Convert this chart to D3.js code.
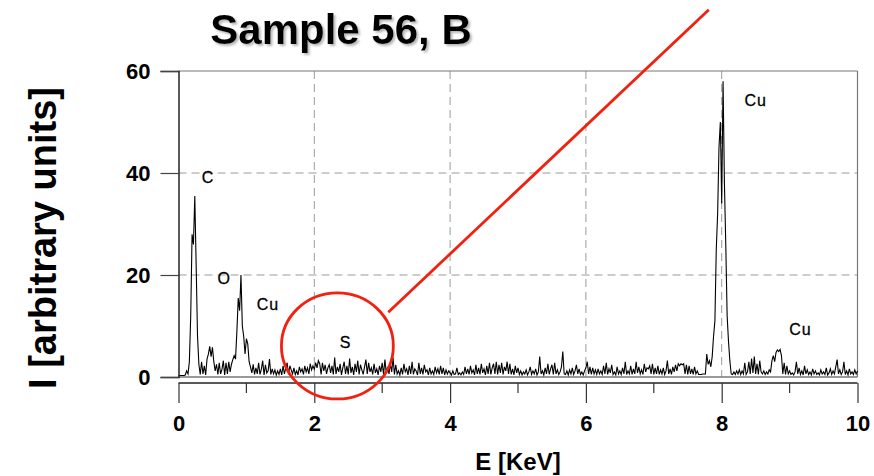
<!DOCTYPE html>
<html>
<head>
<meta charset="utf-8">
<script src="https://cdn.jsdelivr.net/npm/d3@7"></script>
<style>
  html, body { margin: 0; padding: 0; background: #fff; }
  svg { display: block; font-family: "Liberation Sans", Arial, sans-serif; }
</style>
</head>
<body>
<svg id="chart" width="874" height="476"></svg>
<script>
// ---------------- DATA ----------------
const title = "Sample 56, B";
const xTitle = "E [KeV]";
const yTitle = "I [arbitrary units]";
const energyStep = 0.02; // keV between successive counts (0 .. 10 keV)
const xTicks = [0, 2, 4, 6, 8, 10];
const xMinorTicks = [1, 3, 5, 7, 9];
const yTicks = [0, 20, 40, 60];

// intensity, one value per 0.02 keV
const intensity = [
  // 0.00 - 0.98
  0.3,0.3,0.3,0.3,0.3,0.4,1.2,0.6,3,12, 28,26,35.5,22,8,2.5,0.5,3,0.6,2.2,
  0.4,3.5,4.5,6,4,5.8,3,1.2,2.5,0.5, 2.8,0.6,1.5,3.2,0.4,2.8,0.6,3,1,2.5,
  3.4,4.2,3.5,9,15.5,13,20,10,8,4.5,
  // 1.00 - 1.98
  7.5,6.5,3,2,0.8,2.5,0.5,1.8,0.6,2.8, 0.5,1.5,3.2,0.4,2.4,0.8,1.2,3.5,0.5,1.6,
  0.6,1.4,0.4,1.2,0.5,1.6,0.4,2.2,0.6,1.8, 2.8,0.5,2.2,1.4,0.6,1.8,0.5,1.2,0.4,2.0,
  1.0,1.6,0.5,2.2,1.0,1.8,0.6,2.6,1.4,2.2,
  // 2.00 - 2.98
  1.5,2.8,1.8,3.2,2.6,0.5,2.8,1.2,2.4,0.6, 1.8,2.4,0.8,2.2,0.5,3.8,0.6,2.0,1.0,2.6,
  0.4,1.8,3.0,0.6,2.2,0.5,3.6,0.8,2.0,0.4, 2.6,1.0,3.2,0.5,2.4,1.4,0.5,2.0,3.4,0.6,
  2.8,1.0,1.8,0.5,2.6,0.8,1.6,0.4,2.2,1.0,
  // 3.00 - 3.98
  2.8,0.5,3.4,0.8,2.0,0.6,2.6,1.0,3.8,0.5, 2.4,0.6,1.2,0.4,1.8,0.5,2.6,1.0,1.6,0.4,
  2.2,0.6,3.0,0.5,1.6,1.2,0.4,2.8,0.6,1.8, 0.5,2.4,1.0,1.4,0.4,1.8,0.6,1.2,0.5,2.0,
  0.8,1.6,0.5,2.2,0.6,1.8,0.4,1.4,0.6,1.2,
  // 4.00 - 4.98
  0.8,0.4,1.2,0.5,0.6,1.8,0.5,0.8,0.4,1.0, 0.5,2.0,0.6,1.6,0.5,2.2,0.8,1.4,0.4,2.4,
  0.6,1.8,0.5,2.6,0.8,1.6,0.4,2.2,0.6,2.8, 0.5,1.8,2.6,0.6,3.0,0.5,2.4,0.8,2.8,0.5,
  2.0,1.2,3.0,0.6,2.6,0.5,1.6,0.4,2.2,0.8,
  // 5.00 - 5.98
  1.8,0.5,1.2,0.4,1.0,0.6,1.4,0.4,1.0,2.0, 0.5,1.2,0.6,1.6,0.4,1.0,4.0,0.6,1.2,0.4,
  1.8,0.6,2.6,0.5,1.6,2.4,0.5,2.8,0.6,1.4, 0.5,1.0,2.0,5.0,0.6,0.5,1.2,0.4,1.4,0.6,
  1.8,0.5,1.2,2.4,0.6,1.6,0.5,1.0,0.4,1.2,
  // 6.00 - 6.98
  1.8,3.0,0.6,2.0,0.5,1.8,0.6,1.4,0.5,1.6, 0.6,1.2,0.5,2.2,0.6,2.8,0.5,1.6,0.8,2.4,
  0.5,1.0,0.4,2.0,0.6,1.2,0.5,1.8,0.6,3.0, 0.5,1.2,0.6,2.2,0.5,1.6,0.6,3.0,0.8,2.0,
  0.6,1.4,0.5,2.6,1.0,1.8,1.6,2.2,0.6,2.6,
  // 7.00 - 7.98
  0.5,1.8,0.6,2.2,0.5,1.4,0.6,1.8,0.5,1.2, 3.2,0.6,1.6,0.5,2.0,1.0,2.4,1.2,2.6,2.2,
  2.6,2.4,2.6,0.6,2.4,0.5,2.2,0.6,1.6,0.5, 2.0,0.6,1.2,0.5,0.5,0.5,0.6,0.6,0.6,4.5,
  2.5,3.2,2.0,4.0,8.0,11,25,32,45,50,
  // 8.00 - 8.98
  34,58,38,26,12,7,3.2,0.6,0.5,1.0, 0.5,1.2,0.6,1.4,0.5,1.2,0.6,2.8,0.5,1.0,
  3.0,0.6,3.6,0.8,4.0,0.6,2.6,0.5,3.2,1.0, 0.6,1.2,0.5,1.0,0.6,1.4,1.0,3.2,4.2,3.0,
  4.8,5.3,5.0,5.4,4.2,0.6,2.8,0.5,2.2,0.6,
  // 9.00 - 10.00
  1.2,0.5,0.8,0.4,1.0,3.0,0.6,1.8,0.5,1.2, 0.4,2.2,0.6,1.4,0.5,1.0,0.4,1.6,0.6,1.2,
  0.5,0.8,0.4,1.4,0.6,1.0,0.5,1.8,0.4,0.8, 1.6,0.5,1.2,0.6,2.0,3.4,0.6,1.4,0.5,1.0,
  3.0,0.5,1.2,0.4,1.6,0.6,1.0,0.5,1.4,0.6,
  1.2
];

// peak labels (placed in data coordinates)
const peakLabels = ["C", "O", "Cu", "S", "Cu", "Cu"];
const peakLabelE = [0.434, 0.672, 1.317, 2.46, 8.50, 9.16];
const peakLabelI = [39.2, 19.4, 14.3, 6.7, 54.3, 9.4];

// red highlight around the S region (data coordinates)
const circleCenter = [2.34, 6.1];
const circleRadius = [0.824, 10.4];      // keV, intensity units
const pointerFrom = [3.09, 12.7];
const pointerTo = [7.81, 72.0];

// ---------------- CHART ----------------
const svg = d3.select("#chart");
const W = 874, H = 476;
const m = { left: 178.5, right: W - 857.5, top: 71, bottom: H - 377 };

const x = d3.scaleLinear().domain([0, 10]).range([m.left, W - m.right]);
const y = d3.scaleLinear().domain([0, 60]).range([H - m.bottom, m.top]);

const defs = svg.append("defs");
const shadow = defs.append("filter").attr("id", "titleShadow")
  .attr("x", "-10%").attr("y", "-20%").attr("width", "120%").attr("height", "150%");
shadow.append("feDropShadow").attr("dx", 2).attr("dy", 2).attr("stdDeviation", 1.2)
  .attr("flood-color", "#888").attr("flood-opacity", 0.6);

svg.append("rect").attr("width", W).attr("height", H).attr("fill", "#fff");

const grid = svg.append("g");
grid.selectAll("line.hg").data([20, 40]).join("line")
  .attr("x1", x(0)).attr("x2", x(10))
  .attr("y1", d => y(d)).attr("y2", d => y(d))
  .attr("stroke", "#9a9a9a").attr("stroke-width", 1)
  .attr("stroke-dasharray", "8,5");
grid.selectAll("line.vg").data([2, 4, 6, 8]).join("line")
  .attr("x1", d => x(d)).attr("x2", d => x(d))
  .attr("y1", y(60)).attr("y2", y(0))
  .attr("stroke", "#9a9a9a").attr("stroke-width", 1)
  .attr("stroke-dasharray", "8,5");
grid.append("line").attr("x1", x(0)).attr("x2", x(10)).attr("y1", y(60)).attr("y2", y(60))
  .attr("stroke", "#777").attr("stroke-width", 1.2);
grid.append("line").attr("x1", x(10)).attr("x2", x(10)).attr("y1", y(60)).attr("y2", y(0))
  .attr("stroke", "#777").attr("stroke-width", 1.2);
grid.append("line").attr("x1", x(0)).attr("x2", x(10)).attr("y1", y(0)).attr("y2", y(0))
  .attr("stroke", "#777").attr("stroke-width", 1.5);

// spectrum
const line = d3.line()
  .x((d, i) => x(i * energyStep))
  .y(d => y(d));
svg.append("path")
  .datum(intensity)
  .attr("fill", "none")
  .attr("stroke", "#000")
  .attr("stroke-width", 1.1)
  .attr("d", line);

// y axis
const yAxis = d3.axisLeft(y).tickValues(yTicks).tickSize(18).tickPadding(10).tickFormat(d3.format("d"));
const gy = svg.append("g").attr("transform", `translate(${x(0)},0)`).call(yAxis);
gy.select(".domain").attr("stroke", "#222").attr("stroke-width", 1.5);
gy.selectAll(".tick line").attr("stroke", "#444").attr("stroke-width", 1.2);
gy.selectAll(".tick text").attr("font-size", 22).attr("font-weight", "bold")
  .attr("font-family", "'Liberation Sans', Arial, sans-serif").attr("fill", "#000");

// x axis (detached below the plot)
const axisY = 383;
const xAxis = d3.axisBottom(x).tickValues(xTicks).tickSize(20).tickPadding(12).tickFormat(d3.format("d"));
const gx = svg.append("g").attr("transform", `translate(0,${axisY})`).call(xAxis);
gx.select(".domain").attr("stroke", "#222").attr("stroke-width", 1.5)
  .attr("d", `M${x(0)},0H${x(10)}`);
gx.selectAll(".tick line").attr("stroke", "#333").attr("stroke-width", 1.2);
gx.selectAll(".tick text").attr("font-size", 22).attr("font-weight", "bold")
  .attr("font-family", "'Liberation Sans', Arial, sans-serif").attr("fill", "#000");
gx.selectAll("line.minor").data(xMinorTicks).join("line")
  .attr("x1", d => x(d)).attr("x2", d => x(d))
  .attr("y1", 0).attr("y2", 10)
  .attr("stroke", "#333").attr("stroke-width", 1.2);

// peak labels
svg.append("g").selectAll("text").data(peakLabels).join("text")
  .attr("x", (d, i) => x(peakLabelE[i]))
  .attr("y", (d, i) => y(peakLabelI[i]))
  .attr("text-anchor", "middle")
  .attr("dominant-baseline", "central")
  .attr("font-size", 16)
  .attr("letter-spacing", 1)
  .attr("stroke", "#000").attr("stroke-width", 0.3)
  .attr("fill", "#000")
  .text(d => d);

// red highlight
svg.append("ellipse")
  .attr("cx", x(circleCenter[0])).attr("cy", y(circleCenter[1]))
  .attr("rx", x(circleRadius[0]) - x(0)).attr("ry", y(0) - y(circleRadius[1]))
  .attr("fill", "none").attr("stroke", "#f2200f").attr("stroke-width", 2.8);
svg.append("line")
  .attr("x1", x(pointerFrom[0])).attr("y1", y(pointerFrom[1]))
  .attr("x2", x(pointerTo[0])).attr("y2", y(pointerTo[1]))
  .attr("stroke", "#f2200f").attr("stroke-width", 2.8);

// titles
svg.append("text").attr("x", 341).attr("y", 44)
  .attr("text-anchor", "middle").attr("font-size", 42).attr("font-weight", "bold")
  .attr("fill", "#000").attr("filter", "url(#titleShadow)").text(title);

svg.append("text").attr("x", x(5)).attr("y", 470)
  .attr("text-anchor", "middle").attr("font-size", 24).attr("font-weight", "bold")
  .attr("fill", "#000").text(xTitle);

svg.append("text")
  .attr("transform", `translate(56,${(y(0) + y(60)) / 2 + 14}) rotate(-90)`)
  .attr("text-anchor", "middle").attr("font-size", 38).attr("font-weight", "bold")
  .attr("fill", "#000").text(yTitle);
</script>
</body>
</html>
